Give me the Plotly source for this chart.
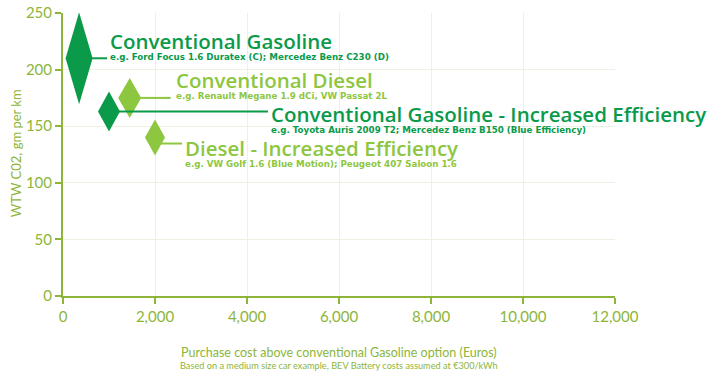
import plotly.graph_objects as go

# Vehicle options: extra purchase cost (EUR) vs well-to-wheel CO2 (g/km)
names = [
    "Conventional Gasoline",
    "Conventional Diesel",
    "Conventional Gasoline - Increased Efficiency",
    "Diesel - Increased Efficiency",
]
examples = [
    "e.g. Ford Focus 1.6 Duratex (C); Mercedez Benz C230 (D)",
    "e.g. Renault Megane 1.9 dCi, VW Passat 2L",
    "e.g. Toyota Auris 2009 T2; Mercedez Benz B150 (Blue Efficiency)",
    "e.g. VW Golf 1.6 (Blue Motion); Peugeot 407 Saloon 1.6",
]
cost_eur = [350, 1450, 1000, 2000]
co2_gkm = [210, 175, 163, 140]

x_ticks = [0, 2000, 4000, 6000, 8000, 10000, 12000]
x_tick_text = ["0", "2,000", "4,000", "6,000", "8,000", "10,000", "12,000"]
y_ticks = [0, 50, 100, 150, 200, 250]

DARK = "#0a9a4a"
LIGHT = "#8dc63f"
AXIS = "#8db53a"
GRID = "#efefe2"

colors = [DARK, LIGHT, DARK, LIGHT]
# diamond half-width / half-height in pixels
diamond_size = [(13.5, 46), (11.5, 20), (11, 20), (10, 18)]
# connector: start px, end px, vertical offset px (down positive)
connector = [(13, 28, 0), (11, 41, 0), (10, 159, 0), (6, 27, 6)]
# label block anchors: (x shift, dy of block middle), dy down positive
label_pos = [(28.5, -13.5), (44.5, -14), (160, 6.5), (28, 14)]

fig = go.Figure()

# invisible points carry the data on the axes
fig.add_trace(go.Scatter(x=cost_eur, y=co2_gkm, mode="markers",
                         marker=dict(size=1, opacity=0), hoverinfo="skip",
                         showlegend=False))

shapes = []
annotations = []
for i in range(len(names)):
    w, h = diamond_size[i]
    shapes.append(dict(
        type="path", xref="x", yref="y", xsizemode="pixel", ysizemode="pixel",
        xanchor=cost_eur[i], yanchor=co2_gkm[i],
        path=f"M {-w} 0 L 0 {h} L {w} 0 L 0 {-h} Z",
        fillcolor=colors[i], line=dict(width=0), layer="above"))
    x0, x1, dy = connector[i]
    shapes.append(dict(
        type="line", xref="x", yref="y", xsizemode="pixel", ysizemode="pixel",
        xanchor=cost_eur[i], yanchor=co2_gkm[i],
        x0=x0, x1=x1, y0=-dy, y1=-dy,
        line=dict(color=colors[i], width=2), layer="above"))
    xs, mdy = label_pos[i]
    label = (f"<span style='font-family:Open Sans;font-size:20.5px;font-weight:600'>"
             f"{names[i]}</span><br><b>{examples[i]}</b>")
    annotations.append(dict(
        x=cost_eur[i], y=co2_gkm[i], xref="x", yref="y",
        xanchor="left", yanchor="middle", align="left",
        xshift=xs, yshift=-mdy, text=label, showarrow=False,
        font=dict(family="DejaVu Sans", size=8.7, color=colors[i])))

# x-axis title with note underneath
annotations.append(dict(
    x=0.5, y=-0.219, xref="paper", yref="paper", xanchor="center", yanchor="middle",
    text=("<span style='font-size:12.5px'>Purchase cost above conventional "
          "Gasoline option (Euros)</span><br>Based on a medium size car example, "
          "BEV Battery costs assumed at €300/kWh"),
    showarrow=False, align="center",
    font=dict(family="Lato", size=9.2, color=AXIS)))
annotations.append(dict(
    x=-0.085, y=0.505, xref="paper", yref="paper", xanchor="center", yanchor="middle",
    text="WTW C02, gm per km", textangle=-90, showarrow=False,
    font=dict(family="Lato", size=13, color=AXIS)))

fig.update_layout(
    width=709, height=375,
    margin=dict(l=63, r=94, t=13, b=79, autoexpand=False),
    paper_bgcolor="white", plot_bgcolor="white",
    shapes=shapes, annotations=annotations,
    showlegend=False,
    xaxis=dict(range=[0, 12000], tickvals=x_ticks, ticktext=x_tick_text,
               showgrid=True, gridcolor=GRID, gridwidth=1,
               showline=True, linecolor=AXIS, linewidth=2,
               ticks="outside", ticklen=6, tickcolor=AXIS, tickwidth=1.5,
               tickfont=dict(family="Lato", size=15, color=AXIS),
               zeroline=False, fixedrange=True, automargin=False),
    yaxis=dict(range=[0, 250], tickvals=y_ticks,
               showgrid=True, gridcolor=GRID, gridwidth=1,
               showline=True, linecolor=AXIS, linewidth=2,
               ticks="outside", ticklen=6, tickcolor=AXIS, tickwidth=1.5,
               tickfont=dict(family="Lato", size=15, color=AXIS),
               zeroline=False, fixedrange=True, automargin=False),
)

fig.write_html("out.html")
